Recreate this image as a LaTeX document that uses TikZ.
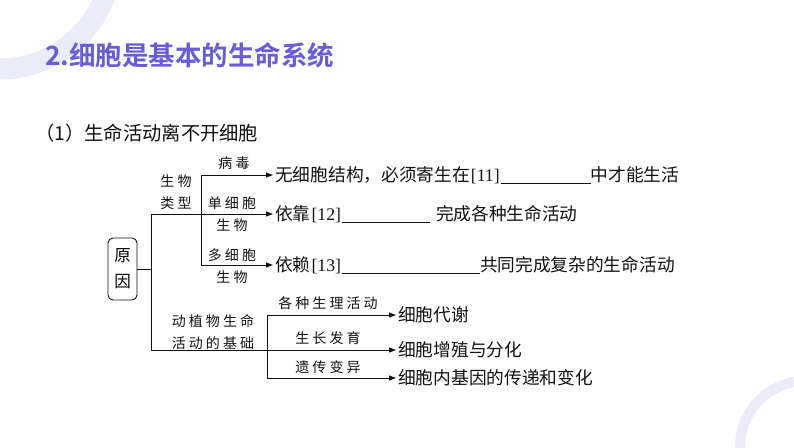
\documentclass[tikz,border=0pt]{standalone}
\usepackage{fontspec}
\setmainfont{Liberation Serif}
\newfontfamily\cjk{Noto Sans CJK SC}[BoldFont={Noto Sans CJK SC Bold}]
\newfontfamily\cjketiq{Noto Sans CJK SC}[LetterSpace=22]
\usetikzlibrary{arrows.meta,positioning}
\definecolor{titulo}{HTML}{6B5BD6}
\definecolor{aro}{HTML}{EBEBF9}
\definecolor{tinta}{HTML}{111111}
\newcommand{\hueco}[1]{\rule[-2pt]{#1}{0.6pt}}
\newcommand{\corch}[1]{{\rmfamily\hspace{1pt}[#1]\hspace{1pt}}}
\tikzset{
  caja/.style={draw=tinta,rounded corners=5pt,line width=0.9pt,minimum width=29pt,minimum height=62pt,inner sep=0pt,align=center,font=\cjk\fontsize{16.5}{26}\selectfont},
  linea/.style={draw=tinta,line width=1pt},
  flecha/.style={linea,-{Triangle[length=7pt,width=5pt]}},
  etiq/.style={inner sep=0pt,align=center,font=\cjketiq\fontsize{14}{22}\selectfont,text=tinta},
  texto/.style={anchor=west,inner xsep=2pt,inner ysep=0pt,font=\cjk\fontsize{17.7}{20}\selectfont,text=tinta},
}
\begin{document}
\begin{tikzpicture}[x=1pt,y=-1pt]
  \useasboundingbox (0,0) rectangle (794,447);
  % aros de fondo
  \begin{scope}
    \clip (0,0) rectangle (794,447);
    \draw[aro,line width=21pt] (0,-43) circle[radius=112pt];
    \draw[aro,line width=10pt] (806,447) circle[radius=66pt];
  \end{scope}
  % titulos
  \node[anchor=west,inner sep=0pt,font=\cjk\bfseries\fontsize{26.5}{30}\selectfont,text=titulo] (tit) at (45,55) {2.细胞是基本的生命系统};
  \node[anchor=west,inner sep=0pt,font=\cjk\fontsize{19.3}{22}\selectfont,text=tinta] (sub) at (35,133) {（1）生命活动离不开细胞};
  % caja y ramas
  \node[caja] (causa) at (122.5,269) {原\\因};
  \coordinate (t0) at (151,214); \coordinate (tm) at (151,269); \coordinate (t1) at (151,350);
  \coordinate (s0) at (201,175); \coordinate (s1) at (201,265);
  \coordinate (u0) at (267,315); \coordinate (u1) at (267,378);
  % textos de la derecha
  \node[texto] (virus) at (273,175) {无细胞结构，必须寄生在\corch{11}\hueco{90pt}中才能生活};
  \node[texto] (unicel) at (273,214) {依靠\corch{12}\hueco{88pt}\hspace{6pt}完成各种生命活动};
  \node[texto] (multi) at (273,265) {依赖\corch{13}\hueco{138pt}共同完成复杂的生命活动};
  \node[texto] (metab) at (396,315) {细胞代谢};
  \node[texto] (prolif) at (396,350) {细胞增殖与分化};
  \node[texto] (gen) at (396,378) {细胞内基因的传递和变化};
  % etiquetas
  \node[etiq] (e1) at (234,163) {病毒};
  \node[etiq] (e2) at (176,192) {生物\\类型};
  \node[etiq] (e3) at (232,214) {单细胞\\生物};
  \node[etiq] (e4) at (232,266) {多细胞\\生物};
  \node[etiq] (e5) at (213,332) {动植物生命\\活动的基础};
  \node[etiq] (e6) at (328,303) {各种生理活动};
  \node[etiq] (e7) at (328,338) {生长发育};
  \node[etiq] (e8) at (328,367) {遗传变异};
  % conectores
  \draw[linea] (causa.east) -- (tm);
  \draw[linea] (t0) -- (t1);
  \draw[flecha] (t0) -- (unicel.west);
  \draw[linea] (s0) -- (s1);
  \draw[flecha] (s0) -- (virus.west);
  \draw[flecha] (s1) -- (multi.west);
  \draw[flecha] (t1) -- (prolif.west);
  \draw[linea] (u0) -- (u1);
  \draw[flecha] (u0) -- (metab.west);
  \draw[flecha] (u1) -- (gen.west);
\end{tikzpicture}
\end{document}
